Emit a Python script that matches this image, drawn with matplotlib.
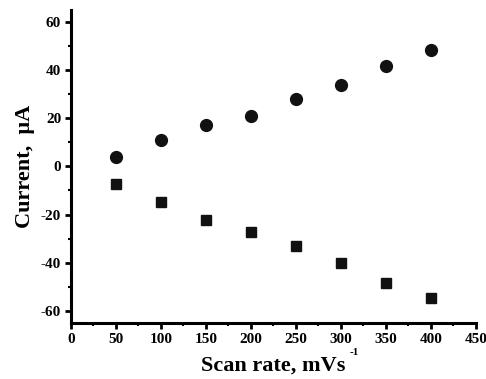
import matplotlib
matplotlib.use('Agg')
import matplotlib.pyplot as plt
from matplotlib.ticker import MultipleLocator

plt.rcParams['font.family'] = ['Liberation Serif', 'DejaVu Serif']
plt.rcParams['font.weight'] = 'bold'
plt.rcParams['axes.unicode_minus'] = False

# data
scan_rate = [50, 100, 150, 200, 250, 300, 350, 400]
anodic = [4.0, 10.8, 17.3, 21.0, 27.9, 34.0, 41.6, 48.4]
cathodic = [-7.3, -14.7, -22.1, -27.3, -32.9, -40.2, -48.3, -54.7]

fig = plt.figure(figsize=(4.86, 3.79), dpi=100)
ax = fig.add_axes([0.146, 0.148, 0.833, 0.826])

ax.plot(scan_rate, anodic, 'o', color='#111111', markersize=8.5)
ax.plot(scan_rate, cathodic, 's', color='#111111', markersize=7.5)

ax.set_xlim(0, 450)
ax.set_ylim(-65, 65)
ax.xaxis.set_major_locator(MultipleLocator(50))
ax.xaxis.set_minor_locator(MultipleLocator(25))
ax.yaxis.set_major_locator(MultipleLocator(20))
ax.yaxis.set_minor_locator(MultipleLocator(10))

for s in ['top', 'right']:
    ax.spines[s].set_visible(False)
for s in ['left', 'bottom']:
    ax.spines[s].set_linewidth(2.2)

ax.tick_params(which='major', direction='out', length=4, width=2, labelsize=11, pad=3)
ax.tick_params(which='minor', direction='out', length=2.5, width=1.5)

xl = ax.set_xlabel('Scan rate, mVs', fontsize=16, fontweight='bold', labelpad=7)
ax.annotate('-1', xy=(1, 1), xycoords=xl, xytext=(3, 5), textcoords='offset points',
            fontsize=8, fontweight='bold', ha='left', va='top')
ax.set_ylabel('Current,  \u03bcA', fontsize=16, fontweight='bold', labelpad=4)

fig.savefig('out.png', dpi=100)
